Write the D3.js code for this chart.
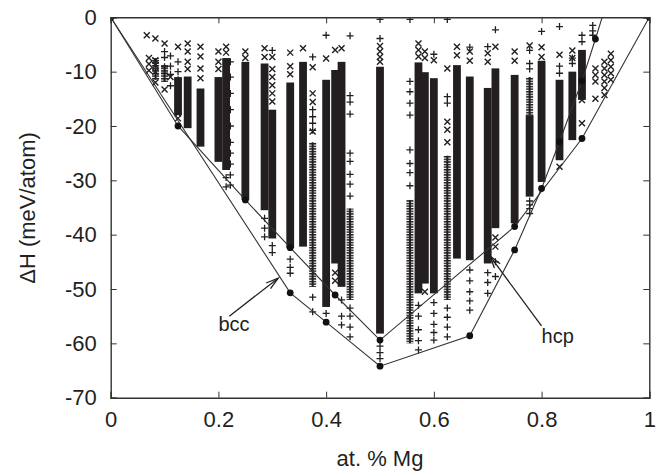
<!DOCTYPE html>
<html>
<head>
<meta charset="utf-8">
<script src="https://cdn.jsdelivr.net/npm/d3@7"></script>
<style>
  html, body { margin: 0; padding: 0; background: #fff; }
  svg { display: block; }
  text { font-family: "Liberation Sans", Arial, Helvetica, sans-serif; fill: #231f20; }
</style>
</head>
<body>
<svg id="chart" width="668" height="474"></svg>
<script>
// ---------------- DATA ----------------
const xTicks = [0, 0.2, 0.4, 0.6, 0.8, 1];
const yTicks = [0, -10, -20, -30, -40, -50, -60, -70];

// solid (dense) columns of structures: composition, top and bottom of the dense range (meV/atom)
const denseX      = [0.125, 0.1429, 0.1667, 0.2, 0.2143, 0.25, 0.2857, 0.3, 0.3333, 0.3571, 0.4, 0.4167, 0.4286, 0.5, 0.5714, 0.5833, 0.6, 0.6429, 0.6667, 0.7, 0.7143, 0.75, 0.7778, 0.8, 0.8333, 0.8571, 0.875];
const denseTop    = [-11, -10.9, -13.1, -11, -7.5, -8.2, -8.5, -17, -12, -8.2, -11.5, -9.7, -8.2, -9.1, -8.3, -10.1, -11.2, -8.8, -10.9, -13, -9.4, -10.6, -18, -8, -11.5, -10, -6];
const denseBottom = [-18, -20.4, -23.8, -26.6, -28.1, -33.6, -35.5, -40.7, -42.5, -42.2, -53.3, -45.3, -49.6, -58.2, -50.8, -49, -50.8, -44.4, -44.7, -45.3, -38.8, -37.9, -33, -30.3, -26.3, -22.6, -15.2];

// looser columns (many overlapping markers, not fully solid)
const looseX      = [0.0833, 0.1, 0.375, 0.4444, 0.5556, 0.625, 0.7778];
const looseTop    = [-7.5, -8.8, -23, -35.2, -33.6, -25.5, -11];
const looseBottom = [-11.5, -11.9, -49.6, -52, -60, -52, -18];

// individual "×" markers
const crossX = [0.067, 0.083, 0.1, 0.071, 0.071, 0.071, 0.083, 0.083, 0.083, 0.083, 0.1, 0.111,
  0.125, 0.125, 0.125, 0.125, 0.1429, 0.1429, 0.1429, 0.1429, 0.1667, 0.1667, 0.1667, 0.1667,
  0.2, 0.2, 0.2, 0.2143, 0.2143, 0.25, 0.25, 0.2857, 0.2857,
  0.3, 0.3, 0.3, 0.3, 0.3, 0.3, 0.3333, 0.3333, 0.3333, 0.3571,
  0.375, 0.375, 0.375, 0.375, 0.4, 0.4167, 0.4167, 0.4167, 0.4286,
  0.5, 0.5, 0.5, 0.5, 0.5714, 0.5714, 0.5714, 0.5833, 0.5833, 0.5833, 0.6,
  0.625, 0.625, 0.625, 0.625, 0.6429, 0.6429, 0.6667, 0.6667, 0.7, 0.7,
  0.7143, 0.7143, 0.7143, 0.75, 0.75, 0.7778, 0.8, 0.8, 0.8333, 0.8333, 0.8571, 0.8571,
  0.875, 0.875, 0.875, 0.875, 0.9, 0.9, 0.9, 0.9,
  0.9167, 0.9167, 0.9167, 0.9167, 0.9167, 0.9167, 0.9286, 0.9286, 0.9286, 0.9286, 0.9286];
const crossY = [-3.3, -3.9, -4.8, -7.5, -8.6, -9.8, -7.9, -8.8, -10.0, -12.0, -13.3, -11,
  -5.4, -16.5, -17.7, -18.6, -4.8, -6.3, -8.2, -9.5, -5.4, -7.2, -9.4, -11.2,
  -6.3, -8.2, -9.5, -5.4, -6.5, -6.3, -7.5, -5.7, -7.3,
  -7.3, -9.5, -11, -12.5, -14, -15.5, -6.5, -9.0, -10.5, -5.7,
  -9.2, -14, -15.6, -21, -7.6, -6.0, -47, -48.5, -5.7,
  -5.3, -6.3, -7.3, -8.2, -4.8, -6.0, -7.2, -6.3, -7.5, -50.5, -7.9,
  -9.4, -19.2, -20.7, -23, -5.4, -7, -6.3, -8, -6.6, -8.2,
  -5.4, -40.5, -42.2, -6.3, -8, -5.2, -5.5, -7.3, -6.9, -27.5, -6.1, -7.5,
  -12, -13.5, -15.2, -19.5, -9.4, -10.6, -11.8, -15,
  -8.2, -9.4, -10.6, -11.8, -13, -14.3, -6.7, -7.9, -9.1, -10.3, -11.5];

// individual "+" markers
const plusX = [0.1, 0.1, 0.1, 0.1, 0.111, 0.111, 0.111, 0.111, 0.125, 0.125, 0.125,
  0.2222, 0.2222, 0.2222, 0.2222, 0.2222, 0.2222, 0.2222, 0.2222, 0.2222, 0.2222, 0.2143, 0.2143,
  0.2857, 0.2857, 0.2857, 0.3, 0.3, 0.3, 0.3333, 0.3333, 0.3333,
  0.375, 0.375, 0.375, 0.375, 0.375, 0.375, 0.375, 0.4, 0.4,
  0.4286, 0.4286, 0.4286,
  0.4444, 0.4444, 0.4444, 0.4444, 0.4444, 0.4444, 0.4444, 0.4444, 0.4444, 0.4444, 0.4444, 0.4444, 0.4444,
  0.5, 0.5, 0.5, 0.5, 0.5,
  0.5556, 0.5556, 0.5556, 0.5556, 0.5556, 0.5556, 0.5556, 0.5556, 0.5556,
  0.5714, 0.5714, 0.5714, 0.5714, 0.5714,
  0.6, 0.6, 0.6, 0.6, 0.6, 0.6,
  0.625, 0.625, 0.625, 0.625, 0.625, 0.625, 0.625,
  0.6667, 0.6667, 0.6667, 0.6667, 0.6667, 0.6667, 0.7, 0.7, 0.7, 0.7,
  0.7143, 0.7143, 0.7143, 0.7778, 0.7778, 0.7778, 0.7778, 0.7778, 0.7778, 0.7778,
  0.8, 0.8333, 0.8333, 0.8333, 0.8571, 0.8571, 0.875, 0.875, 0.895, 0.895, 0.895];
const plusY = [-6.3, -7.4, -9.1, -10.3, -7.1, -9, -10.5, -12.6, -8.2, -10, -11.5,
  -8.2, -11, -14, -17, -20, -23, -25, -27, -29, -30.9, -29.5, -31.2,
  -37, -38.8, -40.4, -6.1, -42, -43.3, -44.5, -46, -47.1,
  -7.3, -17, -18.3, -19.5, -20.8, -51.5, -54.2, -3.3, -54.5,
  -52, -55, -56.6,
  -3.4, -14.4, -15.6, -17.8, -25, -26.5, -28.9, -30.7, -32.9, -53.5, -55, -57, -58.8,
  -0.4, -3.9, -60.5, -61.7, -62.8,
  -0.4, -11.8, -13.7, -15.8, -18, -24.4, -26.9, -28.6, -31,
  -53, -55, -57.5, -59.5, -61.2,
  -6.8, -52.5, -54.5, -56.5, -58, -59.4,
  -0.4, -14.6, -15.8, -53.5, -55.2, -57, -58.8,
  -5.5, -46.5, -48.5, -50.5, -52.2, -53.9, -5.4, -47, -48.8, -50.8,
  -2.3, -45, -47.7, -6.1, -34.5, -36.1, -8.5, -9.5, -33.8, -35.2,
  -2.6, -1.7, -9, -10.3, -7.5, -8.5, -3.3, -4.5, -1.5, -2.5, -3.3];

// convex hulls
const bccX = [0, 0.3333, 0.4, 0.5, 0.6667, 0.75, 0.8, 0.8333, 0.875, 0.9, 1];
const bccY = [0, -50.7, -56.1, -64.2, -58.6, -42.8, -31.5, -22.9, -11.7, -4.0, 28];
const hcpX = [0, 0.125, 0.25, 0.3333, 0.4167, 0.5, 0.75, 0.875, 1];
const hcpY = [0, -20, -33.6, -42.4, -51.1, -59.4, -38.5, -22.3, 0];

// annotation labels (data units)
const bccLabel = {text: "bcc", x: 0.2, y: -57.8, tailX: 0.2202, tailY: -55.0, headX: 0.311, headY: -48.0};
const hcpLabel = {text: "hcp", x: 0.8, y: -60.0, tailX: 0.7998, tailY: -56.8, headX: 0.704, headY: -43.9};

// ---------------- CHART ----------------
const svg = d3.select("#chart");
const X0 = 110.7, X1 = 649.3, Y0 = 17.3, Y1 = 397.7;
const x = d3.scaleLinear().domain([0, 1]).range([X0, X1]);
const y = d3.scaleLinear().domain([-70, 0]).range([Y1, Y0]);
const ink = "#231f20";

const defs = svg.append("defs");
defs.append("clipPath").attr("id", "plotclip")
  .append("rect").attr("x", X0).attr("y", Y0).attr("width", X1 - X0).attr("height", Y1 - Y0);
const pat = defs.append("pattern").attr("id", "stack").attr("patternUnits", "userSpaceOnUse")
  .attr("width", 4).attr("height", 2.6);
pat.append("rect").attr("x", 0).attr("y", 0).attr("width", 4).attr("height", 1.5).attr("fill", ink);

const plot = svg.append("g").attr("clip-path", "url(#plotclip)");

// dense columns
plot.append("g").selectAll("rect").data(denseX).join("rect")
  .attr("x", d => x(d) - 3.9)
  .attr("width", 7.8)
  .attr("y", (d, i) => y(denseTop[i]))
  .attr("height", (d, i) => y(denseBottom[i]) - y(denseTop[i]))
  .attr("fill", ink);

// loose columns: stacked markers (horizontal strokes + centre line)
const looseG = plot.append("g");
looseG.selectAll("rect").data(looseX).join("rect")
  .attr("x", d => x(d) - 3.5)
  .attr("width", 7)
  .attr("y", (d, i) => y(looseTop[i]))
  .attr("height", (d, i) => y(looseBottom[i]) - y(looseTop[i]))
  .attr("fill", "url(#stack)");
looseG.selectAll("line").data(looseX).join("line")
  .attr("x1", d => x(d)).attr("x2", d => x(d))
  .attr("y1", (d, i) => y(looseTop[i]))
  .attr("y2", (d, i) => y(looseBottom[i]))
  .attr("stroke", ink).attr("stroke-width", 2);

const crossPath = "M-3,-3L3,3M-3,3L3,-3";
const plusPath = "M-3.5,0H3.5M0,-3.5V3.5";

plot.append("g").selectAll("path").data(crossX).join("path")
  .attr("transform", (d, i) => `translate(${x(d)},${y(crossY[i])})`)
  .attr("d", crossPath).attr("stroke", ink).attr("stroke-width", 1.4).attr("fill", "none");

plot.append("g").selectAll("path").data(plusX).join("path")
  .attr("transform", (d, i) => `translate(${x(d)},${y(plusY[i])})`)
  .attr("d", plusPath).attr("stroke", ink).attr("stroke-width", 1.3).attr("fill", "none");

// hull lines
const line = d3.line().x(d => x(d[0])).y(d => y(d[1]));
const bccPts = bccX.map((v, i) => [v, bccY[i]]);
const hcpPts = hcpX.map((v, i) => [v, hcpY[i]]);
plot.append("path").attr("d", line(bccPts)).attr("fill", "none").attr("stroke", "#333").attr("stroke-width", 1.1);
plot.append("path").attr("d", line(hcpPts)).attr("fill", "none").attr("stroke", "#333").attr("stroke-width", 1.1);

plot.append("g").selectAll("circle").data(bccPts.filter(p => p[1] <= 0)).join("circle")
  .attr("cx", d => x(d[0])).attr("cy", d => y(d[1])).attr("r", 3.4).attr("fill", "#111");
plot.append("g").selectAll("circle").data(hcpPts).join("circle")
  .attr("cx", d => x(d[0])).attr("cy", d => y(d[1])).attr("r", 3.4).attr("fill", "#111");

// annotation labels
function annotate(lbl) {
  const g = svg.append("g");
  const tx = x(lbl.tailX), ty = y(lbl.tailY), hx = x(lbl.headX), hy = y(lbl.headY);
  g.append("line").attr("x1", tx).attr("y1", ty).attr("x2", hx).attr("y2", hy)
    .attr("stroke", ink).attr("stroke-width", 1.3);
  const ang = Math.atan2(ty - hy, tx - hx);
  const L = 13, a = 0.28;
  const p1 = [hx + L * Math.cos(ang + a), hy + L * Math.sin(ang + a)];
  const p2 = [hx + L * Math.cos(ang - a), hy + L * Math.sin(ang - a)];
  g.append("path").attr("d", `M${p1[0]},${p1[1]}L${hx},${hy}L${p2[0]},${p2[1]}`)
    .attr("fill", "none").attr("stroke", ink).attr("stroke-width", 1.3);
  g.append("text").attr("x", x(lbl.x)).attr("y", y(lbl.y)).attr("font-size", 20).text(lbl.text);
}
annotate(bccLabel);
annotate(hcpLabel);

// axes (ticks inward, mirrored)
const tickLen = 6;
const fmt = d => String(d);
const axisG = svg.append("g");
axisG.append("g").attr("transform", `translate(0,${Y1})`)
  .call(d3.axisBottom(x).tickValues(xTicks).tickSize(-tickLen).tickFormat(fmt).tickPadding(14));
axisG.append("g").attr("transform", `translate(0,${Y0})`)
  .call(d3.axisTop(x).tickValues(xTicks).tickSize(-tickLen).tickFormat(""));
axisG.append("g").attr("transform", `translate(${X0},0)`)
  .call(d3.axisLeft(y).tickValues(yTicks).tickSize(-tickLen).tickFormat(fmt).tickPadding(14));
axisG.append("g").attr("transform", `translate(${X1},0)`)
  .call(d3.axisRight(y).tickValues(yTicks).tickSize(-tickLen).tickFormat(""));
axisG.selectAll(".domain").attr("stroke", "#333").attr("stroke-width", 1.4);
axisG.selectAll(".tick line").attr("stroke", "#333").attr("stroke-width", 1);
axisG.selectAll(".tick text").attr("font-size", 22)
  .attr("font-family", "'Liberation Sans', Arial, Helvetica, sans-serif").attr("fill", ink);

// axis titles
svg.append("text").attr("x", x(0.5)).attr("y", 466).attr("text-anchor", "middle")
  .attr("font-size", 22).text("at. % Mg");
svg.append("text").attr("transform", "translate(35,208) rotate(-90)").attr("text-anchor", "middle")
  .attr("font-size", 22).text("ΔH (meV/atom)");
</script>
</body>
</html>
